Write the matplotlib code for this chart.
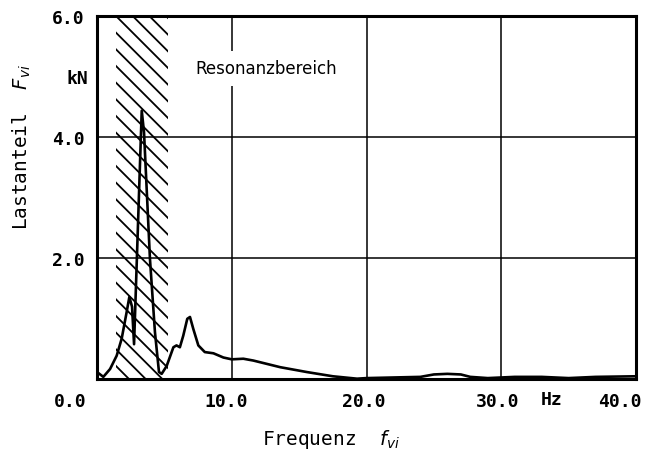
import matplotlib
matplotlib.use("Agg")
import matplotlib.pyplot as plt
from matplotlib.transforms import ScaledTranslation

# spectrum of the load component
freq = [0.0, 0.47, 0.97, 1.46, 1.83, 2.2, 2.4, 2.6, 2.75, 3.32, 3.49, 3.93,
        4.3, 4.6, 4.8, 5.17, 5.67, 5.9, 6.15, 6.4, 6.7, 6.9, 7.15, 7.52, 8.0,
        8.64, 9.38, 10.0, 10.86, 11.6, 13.6, 15.57, 17.5, 19.3, 20.0, 22.0,
        24.0, 25.0, 26.0, 27.0, 27.7, 29.0, 31.0, 33.0, 35.0, 37.0, 40.0]
load = [0.12, 0.04, 0.17, 0.39, 0.67, 1.11, 1.36, 1.2, 0.58, 4.44, 4.08, 1.99,
        0.78, 0.12, 0.09, 0.22, 0.53, 0.56, 0.53, 0.72, 1.0, 1.03, 0.83, 0.56,
        0.45, 0.43, 0.36, 0.33, 0.34, 0.31, 0.2, 0.12, 0.05, 0.01, 0.02, 0.03,
        0.04, 0.08, 0.09, 0.08, 0.04, 0.02, 0.04, 0.04, 0.02, 0.04, 0.05]

resonance = (1.41, 5.25)

xticks = [0, 10, 20, 30, 40]
xticklabels = ["0.0", "10.0", "20.0", "30.0", "40.0"]
xshift_px = [-27, -6, -3, -4, -16]
yticks = [2, 4, 6]
yticklabels = ["2.0", "4.0", "6.0"]

mono = "DejaVu Sans Mono"
plt.rcParams["mathtext.fontset"] = "dejavusans"
plt.rcParams["hatch.linewidth"] = 1.3

fig = plt.figure(figsize=(6.55, 4.6), dpi=100)
ax = fig.add_axes([97 / 655, 1 - 380.3 / 460, 539 / 655, 363 / 460])

ax.axvspan(*resonance, facecolor="none", edgecolor="black", linewidth=0,
           hatch="\\\\", zorder=1)
ax.plot(freq, load, color="black", linewidth=1.9, zorder=3)

ax.set_xlim(0, 40)
ax.set_ylim(0, 6)
ax.set_xticks(xticks, xticklabels)
ax.set_yticks(yticks, yticklabels)
ax.grid(True, color="black", linewidth=1.1, zorder=0)
ax.set_axisbelow(True)
ax.tick_params(length=0, labelsize=13, pad=9)
for lab in ax.get_xticklabels() + ax.get_yticklabels():
    lab.set_fontfamily(mono)
    lab.set_fontweight("bold")
for lab, dx in zip(ax.get_xticklabels(), xshift_px):
    lab.set_transform(lab.get_transform() + ScaledTranslation(dx / 100, 0, fig.dpi_scale_trans))
for sp in ax.spines.values():
    sp.set_linewidth(2.2)
    sp.set_zorder(4)

ax.text(12.55, 5.14, "Resonanzbereich", fontsize=12, ha="center", va="center",
        bbox=dict(facecolor="white", edgecolor="none", pad=6), zorder=2)

fig.text(88 / 655, 1 - 79 / 460, "kN", family=mono, fontweight="bold",
         fontsize=13, ha="right", va="center")
fig.text(552 / 655, 1 - 400 / 460, "Hz", family=mono, fontweight="bold",
         fontsize=13, ha="center", va="center")
fig.text(331 / 655, 1 - 440 / 460, r"Frequenz  $f_{vi}$", family=mono,
         fontsize=14, ha="center", va="center")
fig.text(22 / 655, 1 - 147 / 460, r"Lastanteil  $F_{vi}$", family=mono,
         fontsize=14, ha="center", va="center", rotation=90)

fig.savefig("out.png", dpi=100)
